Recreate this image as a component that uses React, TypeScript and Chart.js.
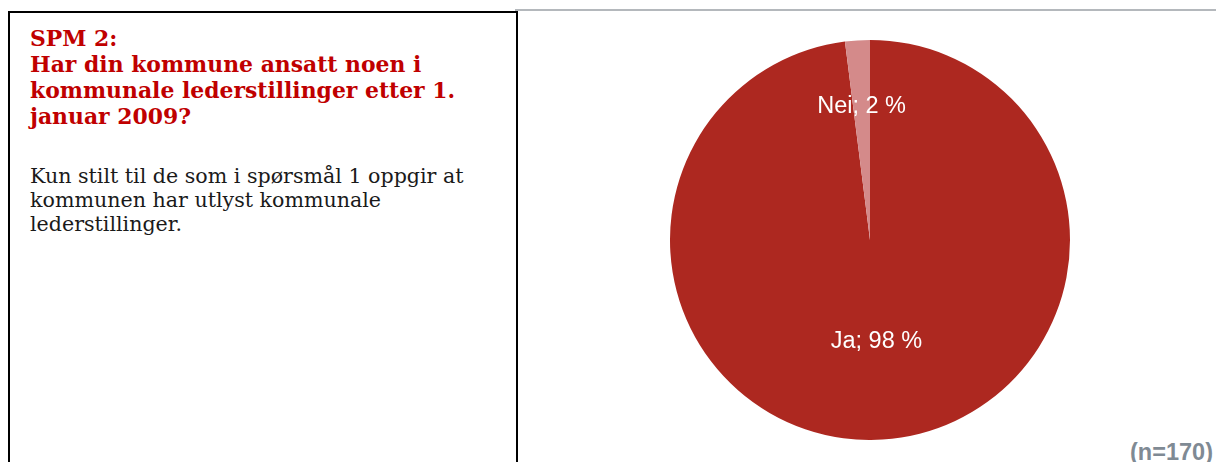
import React, { useEffect, useRef } from "react";
import { Chart, registerables } from "chart.js";

Chart.register(...registerables);

const categories = ["Ja", "Nei"];
const values = [98, 2];
const sliceColors = ["#AD2820", "#D48A8A"];
const labelRadiusFactor = [0.51, 0.67];
const titleLines = [
  "SPM 2:",
  "Har din kommune ansatt noen i",
  "kommunale lederstillinger etter 1.",
  "januar 2009?",
];
const bodyLines = [
  "Kun stilt til de som i spørsmål 1 oppgir at",
  "kommunen har utlyst kommunale",
  "lederstillinger.",
];
const nText = "(n=170)";

const labelPlugin = {
  id: "sliceLabels",
  afterDatasetsDraw(chart: any) {
    const ctx = chart.ctx;
    const meta = chart.getDatasetMeta(0);
    ctx.save();
    ctx.fillStyle = "#ffffff";
    ctx.font = "23.5px 'Liberation Sans', Arial, sans-serif";
    ctx.textAlign = "center";
    ctx.textBaseline = "middle";
    meta.data.forEach((arc: any, i: number) => {
      const p = arc.getProps(["x", "y", "startAngle", "endAngle", "outerRadius"], true);
      const mid = (p.startAngle + p.endAngle) / 2;
      const r = p.outerRadius * labelRadiusFactor[i];
      const x = p.x + Math.cos(mid) * r;
      const y = p.y + Math.sin(mid) * r;
      ctx.fillText(`${categories[i]}; ${values[i]} %`, x, y);
    });
    ctx.restore();
  },
};

export default function App() {
  const ref = useRef<HTMLCanvasElement | null>(null);
  useEffect(() => {
    if (!ref.current) return;
    const chart = new Chart(ref.current, {
      type: "pie",
      data: {
        labels: categories,
        datasets: [
          {
            data: values,
            backgroundColor: sliceColors,
            borderWidth: 0,
          },
        ],
      },
      options: {
        responsive: false,
        animation: false,
        maintainAspectRatio: false,
        layout: { padding: 0 },
        plugins: {
          legend: { display: false },
          tooltip: { enabled: false },
          title: { display: false },
        },
      },
      plugins: [labelPlugin],
    });
    return () => chart.destroy();
  }, []);

  return (
    <div
      style={{
        position: "fixed",
        left: 0,
        top: 0,
        width: 1216,
        height: 462,
        overflow: "hidden",
        background: "#ffffff",
      }}
    >
      <div
        style={{
          position: "absolute",
          left: 515,
          top: 9,
          width: 701,
          height: 2,
          background: "#b4b8bc",
        }}
      />
      <div
        style={{
          position: "absolute",
          left: 8,
          top: 11,
          width: 506,
          height: 480,
          border: "2px solid #000000",
          boxSizing: "content-box",
        }}
      />
      <div
        style={{
          position: "absolute",
          left: 30,
          top: 25,
          fontFamily: "'DejaVu Serif', serif",
          fontWeight: "bold",
          fontSize: 21.9,
          lineHeight: "26px",
          color: "#C00000",
          whiteSpace: "nowrap",
        }}
      >
        {titleLines.map((l, i) => (
          <div key={i}>{l}</div>
        ))}
      </div>
      <div
        style={{
          position: "absolute",
          left: 30,
          top: 164,
          fontFamily: "'DejaVu Serif', serif",
          fontSize: 20.6,
          lineHeight: "24px",
          color: "#1a1a1a",
          whiteSpace: "nowrap",
        }}
      >
        {bodyLines.map((l, i) => (
          <div key={i}>{l}</div>
        ))}
      </div>
      <canvas
        ref={ref}
        width={400}
        height={400}
        style={{ position: "absolute", left: 670, top: 40, width: 400, height: 400 }}
      />
      <div
        style={{
          position: "absolute",
          right: 3,
          top: 441,
          fontFamily: "'Liberation Sans', Arial, sans-serif",
          fontWeight: "bold",
          fontSize: 23.5,
          lineHeight: "23.5px",
          color: "#7f8a94",
          whiteSpace: "nowrap",
        }}
      >
        {nText}
      </div>
    </div>
  );
}
